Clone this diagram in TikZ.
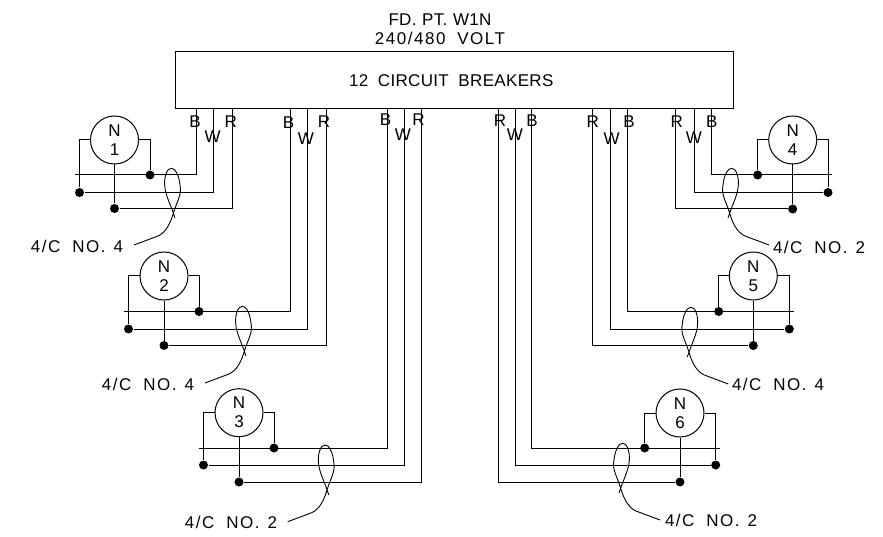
\documentclass[tikz,border=0pt]{standalone}
\usepackage{fontspec}
\setmainfont[LetterSpace=2,WordSpace=1.9]{Liberation Sans}
\newfontfamily\widefont[LetterSpace=9,WordSpace=1.9]{Liberation Sans}

\tikzset{
	cad/.style={font=\fontsize{17}{19}\selectfont,inner sep=0pt,align=center},
	note/.style={cad,font=\fontsize{17}{19}\selectfont\widefont},
	meter/.style={cad,draw,circle,minimum size=48pt},
	dot/.style={fill,circle,inner sep=0pt,minimum size=9pt},
	lead/.pic={
		\draw[thin wire] (0,0) -- (24,-9) .. controls (33,-13) and (37,-24) .. (39.3,-31.7)
			.. controls (43,-44) and (48,-50) .. (46,-60)
			.. controls (45,-70) and (41,-77) .. (37.3,-76.7)
			.. controls (33,-77) and (30,-68) .. (30.7,-60)
			.. controls (31,-50) and (37,-40) .. (41,-27);
	},
	thin wire/.style={line width=0.9pt},
}

\begin{document}
\begin{tikzpicture}[x=1pt,y=-1pt,line width=1pt]
	\useasboundingbox (0,0) rectangle (883,537);
	\node[cad] (T) at (440,29.5) {FD.\kern-4pt\ PT.\kern-4pt\ W1N\\{\widefont 240/480 VOLT}};
	\node[cad,draw,minimum width=557.5pt,minimum height=57.5pt] (P) at (454.25,80.25) {\kern-6pt 12 CIRCUIT BREAKERS};

	\node[meter] (N1) at (114.5,140) {N\\1};
	\node[dot] (D1B) at (150,175) {};
	\node[dot] (D1W) at (79.5,192.5) {};
	\node[dot] (D1R) at (114.5,208.5) {};
	\coordinate (E1) at (75,175);
	\coordinate (B1) at (196,109);
	\coordinate (W1) at (213,109);
	\coordinate (R1) at (232,109);
	\node[cad] at (195,122) {B};
	\node[cad] at (212.7,137) {W};
	\node[cad] at (230.7,122) {R};
	\draw (B1) |- (E1);
	\draw (W1) |- (D1W);
	\draw (R1) |- (D1R);
	\draw (N1) -| (D1W);
	\draw (N1) -| (D1B);
	\draw (N1) -- (D1R);
	\pic at (134,245) {lead};
	\node[note] (L1) at (77,246) {4/C NO.\kern-4pt\ 4};

	\node[meter] (N2) at (164,276) {N\\2};
	\node[dot] (D2B) at (199,311.5) {};
	\node[dot] (D2W) at (128.5,329) {};
	\node[dot] (D2R) at (164,345.5) {};
	\coordinate (E2) at (124,311.5);
	\coordinate (B2) at (290,109);
	\coordinate (W2) at (307,109);
	\coordinate (R2) at (326,109);
	\node[cad] at (288.5,123) {B};
	\node[cad] at (306,139) {W};
	\node[cad] at (324,122) {R};
	\draw (B2) |- (E2);
	\draw (W2) |- (D2W);
	\draw (R2) |- (D2R);
	\draw (N2) -| (D2W);
	\draw (N2) -| (D2B);
	\draw (N2) -- (D2R);
	\pic at (205,383) {lead};
	\node[note] (L2) at (148,384) {4/C NO.\kern-4pt\ 4};

	\node[meter] (N3) at (239,412.7) {N\\3};
	\node[dot] (D3B) at (274,448) {};
	\node[dot] (D3W) at (203.5,465) {};
	\node[dot] (D3R) at (239,482) {};
	\coordinate (E3) at (199,448);
	\coordinate (B3) at (387,109);
	\coordinate (W3) at (404,109);
	\coordinate (R3) at (421,109);
	\node[cad] at (385.5,120) {B};
	\node[cad] at (403,135) {W};
	\node[cad] at (418.5,120) {R};
	\draw (B3) |- (E3);
	\draw (W3) |- (D3W);
	\draw (R3) |- (D3R);
	\draw (N3) -| (D3W);
	\draw (N3) -| (D3B);
	\draw (N3) -- (D3R);
	\pic at (287.7,521.7) {lead};
	\node[note] (L3) at (231,522) {4/C NO.\kern-4pt\ 2};

	\node[meter] (N4) at (792.7,140) {N\\4};
	\node[dot] (D4B) at (757.7,175) {};
	\node[dot] (D4W) at (828,192.5) {};
	\node[dot] (D4R) at (792.7,209) {};
	\coordinate (E4) at (832,175);
	\coordinate (B4) at (711,109);
	\coordinate (W4) at (694,109);
	\coordinate (R4) at (675.7,109);
	\node[cad] at (711.7,122) {B};
	\node[cad] at (694,137.7) {W};
	\node[cad] at (676.7,122) {R};
	\draw (B4) |- (E4);
	\draw (W4) |- (D4W);
	\draw (R4) |- (D4R);
	\draw (N4) -| (D4B);
	\draw (N4) -| (D4W);
	\draw (N4) -- (D4R);
	\pic[xscale=-1] at (769,245) {lead};
	\node[note] (L4) at (819,247) {4/C NO.\kern-4pt\ 2};

	\node[meter] (N5) at (753.3,276) {N\\5};
	\node[dot] (D5B) at (718.7,311.5) {};
	\node[dot] (D5W) at (789.3,329) {};
	\node[dot] (D5R) at (753.3,345.5) {};
	\coordinate (E5) at (793.7,311.5);
	\coordinate (B5) at (627.7,109);
	\coordinate (W5) at (610.7,109);
	\coordinate (R5) at (592,109);
	\node[cad] at (629,122) {B};
	\node[cad] at (611.7,139) {W};
	\node[cad] at (592.7,122) {R};
	\draw (B5) |- (E5);
	\draw (W5) |- (D5W);
	\draw (R5) |- (D5R);
	\draw (N5) -| (D5B);
	\draw (N5) -| (D5W);
	\draw (N5) -- (D5R);
	\pic[xscale=-1] at (728.3,384) {lead};
	\node[note] (L5) at (778,384) {4/C NO.\kern-4pt\ 4};

	\node[meter] (N6) at (680,413) {N\\6};
	\node[dot] (D6B) at (644.7,448) {};
	\node[dot] (D6W) at (715.7,465) {};
	\node[dot] (D6R) at (680,482) {};
	\coordinate (E6) at (720,448);
	\coordinate (B6) at (531.7,109);
	\coordinate (W6) at (515,109);
	\coordinate (R6) at (498,109);
	\node[cad] at (532,121) {B};
	\node[cad] at (515,135) {W};
	\node[cad] at (500,121) {R};
	\draw (B6) |- (E6);
	\draw (W6) |- (D6W);
	\draw (R6) |- (D6R);
	\draw (N6) -| (D6B);
	\draw (N6) -| (D6W);
	\draw (N6) -- (D6R);
	\pic[xscale=-1] at (660,520) {lead};
	\node[note] (L6) at (711,520) {4/C NO.\kern-4pt\ 2};
\end{tikzpicture}
\end{document}
